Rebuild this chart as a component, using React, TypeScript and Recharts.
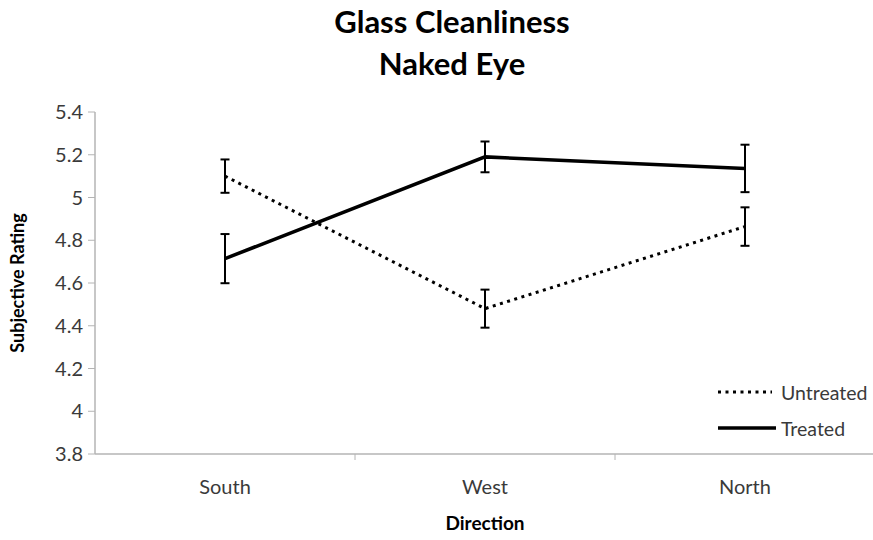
import { LineChart, Line, XAxis, YAxis, ErrorBar, Label } from 'recharts';

const directions = ['South', 'West', 'North'];
const untreated = [5.1, 4.48, 4.864];
const untreatedErr = [0.078, 0.089, 0.09];
const treated = [4.714, 5.19, 5.136];
const treatedErr = [0.115, 0.072, 0.111];
const yTicks = [3.8, 4, 4.2, 4.4, 4.6, 4.8, 5, 5.2, 5.4];

const data = directions.map((d, i) => ({
    direction: d,
    untreated: untreated[i],
    untreatedErr: untreatedErr[i],
    treated: treated[i],
    treatedErr: treatedErr[i],
}));

const FONT = 'Lato, "Open Sans", sans-serif';
const AXIS_GREY = '#b4b4b4';
const TEXT = '#3a3a3a';

// category label in the middle, small tick mark on the band boundary
const DirectionTick = (props: any) => {
    const { x, y, payload } = props;
    const half = payload && payload.offset ? payload.offset : 130;
    return (
        <g>
            <line x1={x + half} x2={x + half} y1={y - 6} y2={y} stroke={AXIS_GREY} strokeWidth={1} />
            <text x={x} y={y + 34} textAnchor="middle" fill={TEXT} fontSize={20} fontFamily={FONT}>
                {payload.value}
            </text>
        </g>
    );
};

const LegendBox = () => (
    <div style={{ position: 'absolute', left: 716, top: 374, fontFamily: FONT, fontSize: 19.5, color: TEXT }}>
        <div style={{ display: 'flex', alignItems: 'center', height: 36 }}>
            <svg width={65} height={10}>
                <line x1={2} x2={56} y1={5} y2={5} stroke="#000" strokeWidth={3} strokeDasharray="3 4.5" />
            </svg>
            <span>Untreated</span>
        </div>
        <div style={{ display: 'flex', alignItems: 'center', height: 36 }}>
            <svg width={65} height={10}>
                <line x1={2} x2={60} y1={5} y2={5} stroke="#000" strokeWidth={3.5} />
            </svg>
            <span>Treated</span>
        </div>
    </div>
);

export default function App() {
    return (
        <div style={{ position: 'absolute', left: 0, top: 0, width: 873, height: 540, overflow: 'hidden', background: '#fff' }}>
            <div
                style={{
                    position: 'absolute',
                    left: 0,
                    top: 0,
                    width: 904,
                    textAlign: 'center',
                    fontFamily: FONT,
                    fontWeight: 700,
                    fontSize: 31,
                    lineHeight: '42px',
                    color: '#000',
                }}
            >
                Glass Cleanliness
                <br />
                Naked Eye
            </div>
            <LineChart width={875} height={540} data={data} margin={{ top: 112, right: 0, bottom: 0, left: 0 }}>
                <XAxis
                    dataKey="direction"
                    scale="band"
                    height={86}
                    axisLine={{ stroke: AXIS_GREY, strokeWidth: 1.5 }}
                    tickLine={false}
                    tickSize={6}
                    tickMargin={0}
                    tick={<DirectionTick />}
                    interval={0}
                >
                    <Label
                        content={(p: any) => (
                            <text
                                x={p.viewBox.x + p.viewBox.width / 2}
                                y={530}
                                textAnchor="middle"
                                fontFamily={FONT}
                                fontWeight={700}
                                fontSize={19}
                                fill="#000"
                            >
                                Direction
                            </text>
                        )}
                    />
                </XAxis>
                <YAxis
                    width={95}
                    domain={[3.8, 5.4]}
                    ticks={yTicks}
                    interval={0}
                    axisLine={{ stroke: AXIS_GREY, strokeWidth: 1.5 }}
                    tickLine={{ stroke: AXIS_GREY }}
                    tickSize={7}
                    tickMargin={5}
                    tick={{ fill: TEXT, fontSize: 20, fontFamily: FONT }}
                >
                    <Label
                        content={(p: any) => {
                            const cy = p.viewBox.y + p.viewBox.height / 2;
                            return (
                                <text
                                    x={24}
                                    y={cy}
                                    transform={`rotate(-90 24 ${cy})`}
                                    textAnchor="middle"
                                    fontFamily={FONT}
                                    fontWeight={700}
                                    fontSize={18}
                                    fill="#000"
                                >
                                    Subjective Rating
                                </text>
                            );
                        }}
                    />
                </YAxis>
                <Line
                    dataKey="untreated"
                    name="Untreated"
                    stroke="#000"
                    strokeWidth={3}
                    strokeDasharray="3 4.5"
                    dot={false}
                    activeDot={false}
                    isAnimationActive={false}
                >
                    <ErrorBar dataKey="untreatedErr" width={4.5} stroke="#000" strokeWidth={2} direction="y" isAnimationActive={false} />
                </Line>
                <Line
                    dataKey="treated"
                    name="Treated"
                    stroke="#000"
                    strokeWidth={3.5}
                    dot={false}
                    activeDot={false}
                    isAnimationActive={false}
                >
                    <ErrorBar dataKey="treatedErr" width={4.5} stroke="#000" strokeWidth={2} direction="y" isAnimationActive={false} />
                </Line>
            </LineChart>
            <LegendBox />
        </div>
    );
}
